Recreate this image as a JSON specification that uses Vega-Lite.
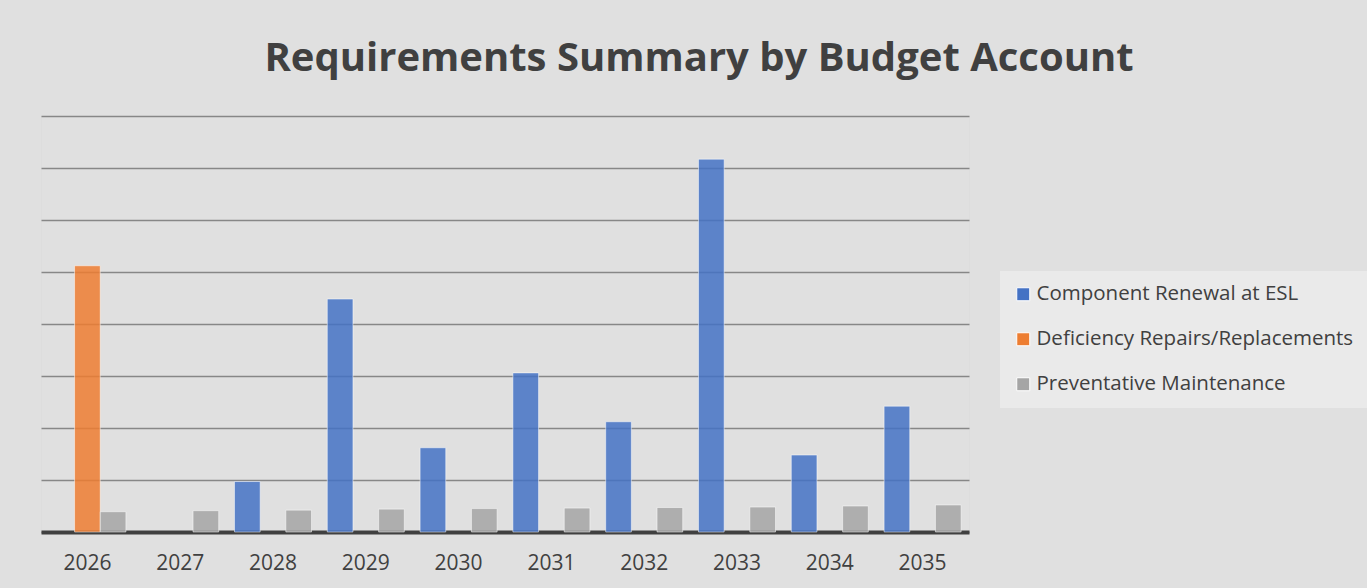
{
  "$schema": "https://vega.github.io/schema/vega-lite/v6.json",
  "autosize": {"type": "none"},
  "padding": {"left": 41, "top": 116, "right": 398, "bottom": 56},
  "width": 928,
  "height": 416,
  "background": "#e0e0e0",
  "title": {
    "text": "Requirements Summary by Budget Account",
    "font": "Open Sans",
    "fontSize": 40,
    "fontWeight": "bold",
    "color": "#404040",
    "anchor": "middle",
    "dx": 194,
    "offset": 37
  },
  "data": {
    "values": [
      {"year": "2026", "series": "Deficiency Repairs/Replacements", "amount": 5.12},
      {"year": "2026", "series": "Preventative Maintenance", "amount": 0.39},
      {"year": "2027", "series": "Preventative Maintenance", "amount": 0.41},
      {"year": "2028", "series": "Component Renewal at ESL", "amount": 0.97},
      {"year": "2028", "series": "Preventative Maintenance", "amount": 0.42},
      {"year": "2029", "series": "Component Renewal at ESL", "amount": 4.48},
      {"year": "2029", "series": "Preventative Maintenance", "amount": 0.44},
      {"year": "2030", "series": "Component Renewal at ESL", "amount": 1.62},
      {"year": "2030", "series": "Preventative Maintenance", "amount": 0.45},
      {"year": "2031", "series": "Component Renewal at ESL", "amount": 3.06},
      {"year": "2031", "series": "Preventative Maintenance", "amount": 0.46},
      {"year": "2032", "series": "Component Renewal at ESL", "amount": 2.12},
      {"year": "2032", "series": "Preventative Maintenance", "amount": 0.47},
      {"year": "2033", "series": "Component Renewal at ESL", "amount": 7.17},
      {"year": "2033", "series": "Preventative Maintenance", "amount": 0.48},
      {"year": "2034", "series": "Component Renewal at ESL", "amount": 1.48},
      {"year": "2034", "series": "Preventative Maintenance", "amount": 0.5},
      {"year": "2035", "series": "Component Renewal at ESL", "amount": 2.42},
      {"year": "2035", "series": "Preventative Maintenance", "amount": 0.52}
    ]
  },
  "mark": {
    "type": "bar",
    "fillOpacity": 0.85,
    "stroke": "#ffffff",
    "strokeOpacity": 0.5,
    "strokeWidth": 1
  },
  "encoding": {
    "x": {
      "field": "year",
      "type": "nominal",
      "sort": null,
      "scale": {"paddingInner": 0.17, "paddingOuter": 0.085},
      "axis": {
        "title": null,
        "labelAngle": 0,
        "ticks": false,
        "domainColor": "#404040",
        "domainWidth": 4,
        "labelFont": "Open Sans",
        "labelFontSize": 21,
        "labelColor": "#404040",
        "labelPadding": 20
      }
    },
    "xOffset": {
      "field": "series",
      "type": "nominal",
      "scale": {
        "domain": ["Component Renewal at ESL", "Deficiency Repairs/Replacements", "Preventative Maintenance"],
        "paddingInner": 0,
        "paddingOuter": 0
      }
    },
    "y": {
      "field": "amount",
      "type": "quantitative",
      "scale": {"domain": [0, 8], "nice": false},
      "axis": {
        "title": null,
        "labels": false,
        "ticks": false,
        "domain": false,
        "tickCount": 8,
        "gridColor": "#878787",
        "gridWidth": 1.5
      }
    },
    "color": {
      "field": "series",
      "type": "nominal",
      "scale": {
        "domain": ["Component Renewal at ESL", "Deficiency Repairs/Replacements", "Preventative Maintenance"],
        "range": ["#4472C4", "#ED7D31", "#A5A5A5"]
      },
      "legend": {
        "title": null,
        "orient": "none",
        "legendX": 959,
        "legendY": 155,
        "fillColor": "#eaeaea",
        "padding": 13,
        "symbolType": "square",
        "symbolSize": 169,
        "symbolOpacity": 1,
        "symbolStrokeColor": "#ffffff",
        "symbolStrokeWidth": 1,
        "labelFont": "Open Sans",
        "labelFontSize": 20.5,
        "labelColor": "#404040",
        "labelOffset": 3,
        "labelLimit": 500,
        "rowPadding": 24
      }
    }
  }
}
